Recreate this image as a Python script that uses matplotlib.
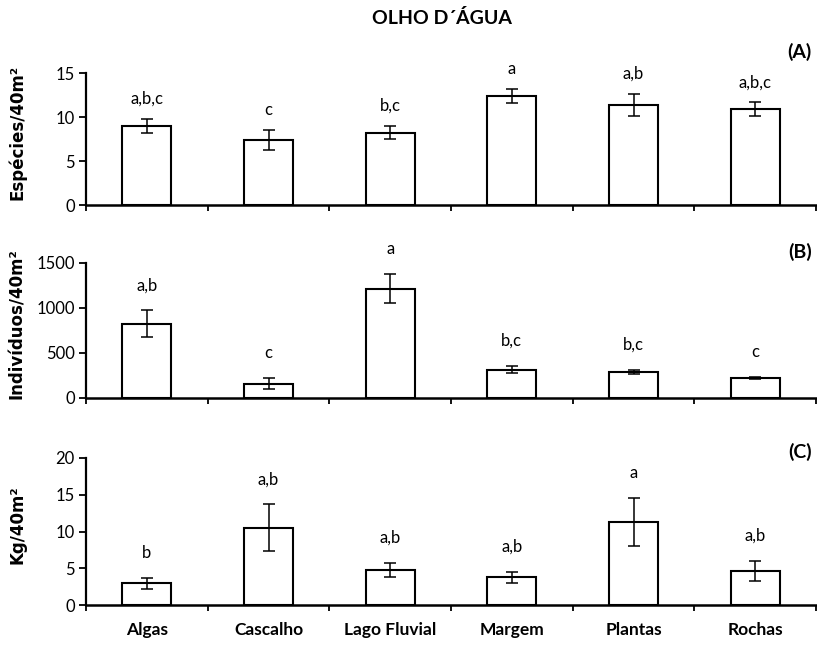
import numpy as np
import matplotlib.pyplot as plt

# Habitat categories
habitats = ["Algas", "Cascalho", "Lago Fluvial", "Margem", "Plantas", "Rochas"]

# (A) species richness
especies = [9.0, 7.4, 8.2, 12.4, 11.35, 10.9]
especies_err = [0.82, 1.14, 0.75, 0.8, 1.27, 0.75]
especies_let = ["a,b,c", "c", "b,c", "a", "a,b", "a,b,c"]

# (B) abundance
individuos = [825, 160, 1215, 315, 290, 220]
individuos_err = [148, 65, 160, 42, 25, 10]
individuos_let = ["a,b", "c", "a", "b,c", "b,c", "c"]

# (C) biomass
biomassa = [2.95, 10.5, 4.8, 3.8, 11.3, 4.67]
biomassa_err = [0.77, 3.2, 0.95, 0.75, 3.3, 1.34]
biomassa_let = ["b", "a,b", "a,b", "a,b", "a", "a,b"]

TICK_FONT = "Lato"
W, H = 817, 645

fig = plt.figure(figsize=(W / 100, H / 100), dpi=100)


def draw_panel(rect, vals, errs, letters, ymax, ystep, ylabel, tag, tag_y,
               let_off, show_x=False):
    ax = fig.add_axes(rect)
    x = np.arange(len(vals))
    ax.bar(x, vals, width=0.4, color="white", edgecolor="black", linewidth=1.5, zorder=2)
    ax.errorbar(x, vals, yerr=errs, fmt="none", ecolor="black", elinewidth=1.1,
                capsize=4, capthick=1.1, zorder=3)
    for xi, v, e, lab in zip(x, vals, errs, letters):
        ax.annotate(lab, (xi, v + e), xytext=(0, let_off), textcoords="offset points",
                    ha="center", va="baseline", fontsize=12, family=TICK_FONT,
                    annotation_clip=False)

    ax.set_xlim(-0.5, len(vals) - 0.5)
    ax.set_ylim(0, ymax)
    ax.set_yticks(np.arange(0, ymax + 1, ystep))
    ax.set_xticks(np.arange(-0.5, len(vals)))
    ax.set_xticklabels([])
    ax.tick_params(axis="x", direction="out", length=4, width=1.3)
    ax.tick_params(axis="y", direction="out", length=5, width=1.3, labelsize=12, pad=3)
    for lab in ax.get_yticklabels():
        lab.set_family(TICK_FONT)
    if show_x:
        ax.set_xticks(x, minor=True)
        ax.set_xticklabels(habitats, minor=True, fontsize=12.5, fontweight="bold",
                           family=TICK_FONT)
        ax.tick_params(axis="x", which="minor", length=0, pad=12)

    for s in ["top", "right"]:
        ax.spines[s].set_visible(False)
    ax.spines["left"].set_linewidth(1.6)
    ax.spines["bottom"].set_linewidth(1.8)

    # y label centred slightly above the middle of the plot area
    fig.text(17 / W, rect[1] + rect[3] / 2 + 7 / H, ylabel, rotation=90,
             ha="center", va="center", fontsize=12, fontweight="bold")
    fig.text(812 / W, 1 - tag_y / H, tag, ha="right", va="center",
             fontsize=14, fontweight="bold", family=TICK_FONT)
    return ax


left, width = 86 / W, 730 / W
draw_panel([left, 1 - 205 / H, width, 132 / H], especies, especies_err, especies_let,
           15, 5, "Espécies/40m²", "(A)", 52, 11)
draw_panel([left, 1 - 398 / H, width, 135 / H], individuos, individuos_err, individuos_let,
           1500, 500, "Indivíduos/40m²", "(B)", 252, 14.5)
draw_panel([left, 1 - 605 / H, width, 147 / H], biomassa, biomassa_err, biomassa_let,
           20, 5, "Kg/40m²", "(C)", 452, 14.5, show_x=True)

fig.text(442 / W, 1 - 18 / H, "OLHO D´ÁGUA", ha="center", va="center",
         fontsize=14, fontweight="bold", family=TICK_FONT)

fig.savefig("out.png", dpi=100)
